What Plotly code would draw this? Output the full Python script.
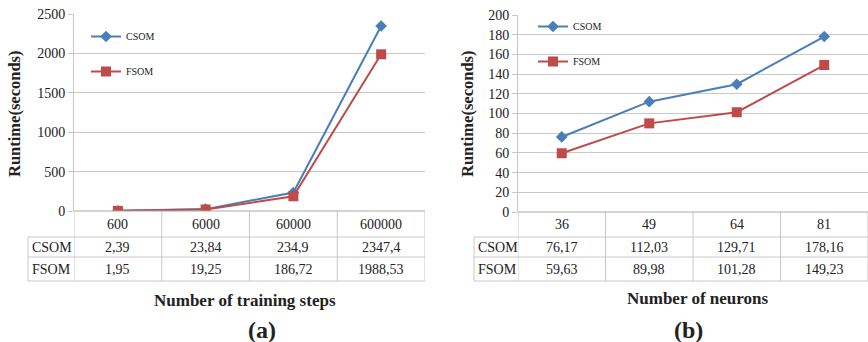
import plotly.graph_objects as go

W, H = 868, 342

# ---- data ----
steps = ["600", "6000", "60000", "600000"]
csom_steps = [2.39, 23.84, 234.9, 2347.4]
fsom_steps = [1.95, 19.25, 186.72, 1988.53]

neurons = ["36", "49", "64", "81"]
csom_neurons = [76.17, 112.03, 129.71, 178.16]
fsom_neurons = [59.63, 89.98, 101.28, 149.23]

series_names = ["CSOM", "FSOM"]
left_ticks = [0, 500, 1000, 1500, 2000, 2500]
right_ticks = list(range(0, 201, 20))

BLUE = "#4A7EBB"
RED = "#BE4B48"
GRID = "#C8C8C8"
FONT = "Liberation Serif"


def px(x):
    return x / W


def py(y):
    return 1 - y / H


def fmt(v):
    return str(v).replace(".", ",")


fig = go.Figure()

panels = [
    dict(cats=steps, c=csom_steps, f=fsom_steps, xa="x", ya="y", leg="legend",
         x0=74, x1=425, ytop=14, ybot=211, lab0=28,
         xtitle="Number of training steps", xt=(245, 300), tag="(a)", tg=(262, 330),
         ytitle_x=15),
    dict(cats=neurons, c=csom_neurons, f=fsom_neurons, xa="x2", ya="y2", leg="legend2",
         x0=518, x1=868, ytop=15, ybot=212, lab0=474,
         xtitle="Number of neurons", xt=(697, 298), tag="(b)", tg=(688, 330),
         ytitle_x=468),
]

shapes = []
annotations = []


def ann(x, y, text, font, xref="paper", **kw):
    d = dict(x=x, y=y, xref=xref, yref="paper", text=text, showarrow=False, font=font,
             xanchor="center", yanchor="middle")
    d.update(kw)
    return d


for i, p in enumerate(panels):
    fig.add_trace(go.Scatter(
        x=p["cats"], y=p["c"], name=series_names[0], mode="lines+markers",
        line=dict(color=BLUE, width=2), marker=dict(symbol="diamond", size=9, color=BLUE),
        xaxis=p["xa"], yaxis=p["ya"], legend=p["leg"], legendgroup="c%d" % i))
    fig.add_trace(go.Scatter(
        x=p["cats"], y=p["f"], name=series_names[1], mode="lines+markers",
        line=dict(color=RED, width=2), marker=dict(symbol="square", size=10, color=RED),
        xaxis=p["xa"], yaxis=p["ya"], legend=p["leg"], legendgroup="f%d" % i))

    xs = p["xa"]
    row_lines = [237, 257, 281]
    for yl in row_lines:
        shapes.append(dict(type="line", xref="paper", yref="paper",
                           x0=px(p["lab0"]), x1=min(px(p["x1"]), 1.0),
                           y0=py(yl), y1=py(yl), line=dict(color=GRID, width=1)))
    shapes.append(dict(type="line", xref="paper", yref="paper",
                       x0=px(p["lab0"]), x1=px(p["lab0"]), y0=py(237), y1=py(281),
                       line=dict(color=GRID, width=1)))
    for k in range(len(p["cats"]) + 1):
        shapes.append(dict(type="line", xref=xs, yref="paper",
                           x0=k - 0.5, x1=k - 0.5, y0=py(p["ybot"]), y1=py(281),
                           line=dict(color=GRID, width=1)))
    shapes.append(dict(type="line", xref=xs, yref="paper", x0=-0.5, x1=3.5,
                       y0=py(p["ybot"]), y1=py(p["ybot"]), line=dict(color="#A8A8A8", width=1)))

    tf = dict(family=FONT, size=14, color="#222")
    for k, cat in enumerate(p["cats"]):
        annotations.append(ann(k, py(224), cat, tf, xref=xs))
        annotations.append(ann(k, py(247), fmt(p["c"][k]), tf, xref=xs))
        annotations.append(ann(k, py(269), fmt(p["f"][k]), tf, xref=xs))
    annotations.append(ann(px(p["lab0"] + 2), py(247), series_names[0], tf, xanchor="left"))
    annotations.append(ann(px(p["lab0"] + 2), py(269), series_names[1], tf, xanchor="left"))
    annotations.append(ann(px(p["xt"][0]), py(p["xt"][1]), "<b>%s</b>" % p["xtitle"],
                           dict(family=FONT, size=17, color="#222")))
    annotations.append(ann(px(p["tg"][0]), py(p["tg"][1]), "<b>%s</b>" % p["tag"],
                           dict(family=FONT, size=24, color="#222")))
    annotations.append(ann(px(p["ytitle_x"]), py(114), "<b>Runtime(seconds)</b>",
                           dict(family=FONT, size=16.5, color="#222"), textangle=-90))

axis_common = dict(showgrid=False, zeroline=False, showticklabels=False, ticks="",
                   showline=False, range=[-0.5, 3.5], type="category", fixedrange=True)
yaxis_common = dict(showgrid=True, gridcolor=GRID, gridwidth=1, zeroline=False,
                    showline=True, linecolor=GRID, linewidth=1, ticks="outside",
                    ticklen=5, tickcolor=GRID, fixedrange=True,
                    tickfont=dict(family=FONT, size=14, color="#222"))

fig.update_layout(
    width=W, height=H, margin=dict(l=0, r=0, t=0, b=0, autoexpand=False),
    paper_bgcolor="white", plot_bgcolor="white",
    xaxis=dict(domain=[px(74), px(425)], anchor="y", **axis_common),
    yaxis=dict(domain=[py(211), py(14)], anchor="x", range=[0, 2500], tickvals=left_ticks,
               **yaxis_common),
    xaxis2=dict(domain=[px(518), 1.0], anchor="y2", **axis_common),
    yaxis2=dict(domain=[py(212), py(15)], anchor="x2", range=[0, 200], tickvals=right_ticks,
                **yaxis_common),
    legend=dict(x=px(86), y=py(22), xanchor="left", yanchor="top", bgcolor="rgba(0,0,0,0)",
                font=dict(family=FONT, size=10, color="#222"), tracegroupgap=16,
                itemwidth=30),
    legend2=dict(x=px(533), y=py(12), xanchor="left", yanchor="top", bgcolor="rgba(0,0,0,0)",
                 font=dict(family=FONT, size=10, color="#222"), tracegroupgap=16,
                 itemwidth=30),
    shapes=shapes,
    annotations=annotations,
    showlegend=True,
)

fig.write_html("out.html", config={"displayModeBar": False},
               post_script="document.body.style.margin='0';document.body.style.overflow='hidden';")
